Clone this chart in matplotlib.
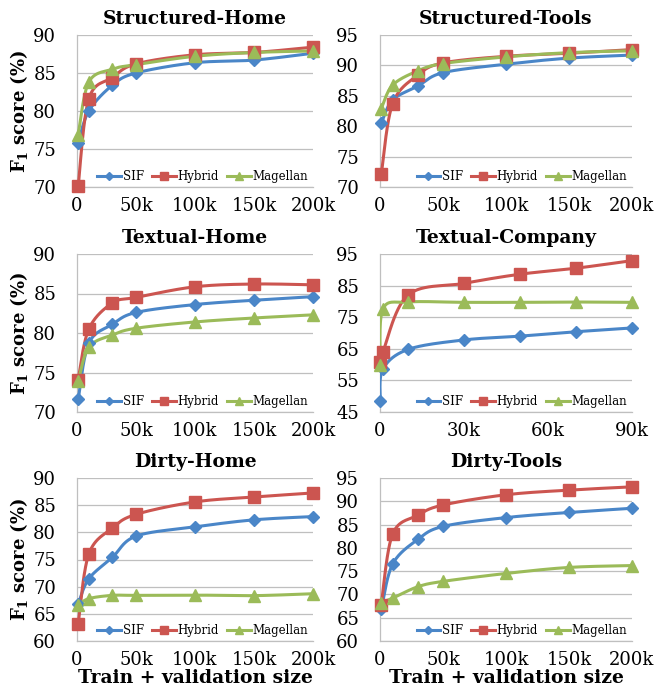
import numpy as np
import matplotlib
matplotlib.use("Agg")
import matplotlib.pyplot as plt

plt.rcParams['font.family'] = ['DejaVu Serif']
plt.rcParams['mathtext.fontset'] = 'dejavuserif'

# ---------------- data ----------------
x_std = [1000, 10000, 30000, 50000, 100000, 150000, 200000]
x_company = [100, 1000, 10000, 30000, 50000, 70000, 90000]

titles = ["Structured-Home", "Structured-Tools", "Textual-Home",
          "Textual-Company", "Dirty-Home", "Dirty-Tools"]
series_names = ["SIF", "Hybrid", "Magellan"]

sif_structured_home = [75.8, 80.0, 83.4, 85.0, 86.35, 86.7, 87.6]
hyb_structured_home = [70.1, 81.6, 84.4, 86.2, 87.4, 87.7, 88.4]
mag_structured_home = [76.9, 83.8, 85.5, 86.1, 87.2, 87.7, 87.9]

sif_structured_tools = [80.5, 84.3, 86.6, 88.8, 90.2, 91.2, 91.7]
hyb_structured_tools = [72.1, 83.7, 88.4, 90.4, 91.5, 92.0, 92.6]
mag_structured_tools = [82.9, 86.75, 89.1, 90.3, 91.4, 92.1, 92.4]

sif_textual_home = [71.6, 78.7, 81.1, 82.6, 83.6, 84.15, 84.6]
hyb_textual_home = [74.1, 80.5, 83.8, 84.5, 85.85, 86.2, 86.1]
mag_textual_home = [73.9, 78.2, 79.75, 80.6, 81.4, 81.9, 82.3]

sif_textual_company = [48.6, 58.5, 64.8, 67.8, 69.0, 70.4, 71.6]
hyb_textual_company = [60.7, 63.9, 82.0, 85.7, 88.6, 90.5, 92.9]
mag_textual_company = [59.8, 77.5, 79.8, 79.7, 79.7, 79.8, 79.7]

sif_dirty_home = [66.8, 71.45, 75.4, 79.3, 81.0, 82.3, 82.9]
hyb_dirty_home = [63.2, 76.0, 80.8, 83.3, 85.6, 86.5, 87.25]
mag_dirty_home = [66.6, 67.8, 68.4, 68.4, 68.45, 68.35, 68.7]

sif_dirty_tools = [66.8, 76.5, 81.8, 84.6, 86.5, 87.6, 88.5]
hyb_dirty_tools = [67.8, 82.95, 87.0, 89.2, 91.4, 92.4, 93.1]
mag_dirty_tools = [68.2, 69.2, 71.65, 72.8, 74.5, 75.8, 76.2]

panels = [
    (x_std, [sif_structured_home, hyb_structured_home, mag_structured_home], (70, 90, 5), [0, 50000, 100000, 150000, 200000]),
    (x_std, [sif_structured_tools, hyb_structured_tools, mag_structured_tools], (70, 95, 5), [0, 50000, 100000, 150000, 200000]),
    (x_std, [sif_textual_home, hyb_textual_home, mag_textual_home], (70, 90, 5), [0, 50000, 100000, 150000, 200000]),
    (x_company, [sif_textual_company, hyb_textual_company, mag_textual_company], (45, 95, 10), [0, 30000, 60000, 90000]),
    (x_std, [sif_dirty_home, hyb_dirty_home, mag_dirty_home], (60, 90, 5), [0, 50000, 100000, 150000, 200000]),
    (x_std, [sif_dirty_tools, hyb_dirty_tools, mag_dirty_tools], (60, 95, 5), [0, 50000, 100000, 150000, 200000]),
]

colors = ["#4A86C8", "#CC5550", "#9BBB59"]
markers = ["D", "s", "^"]
msizes = [6.0, 8.0, 8.0]


def smooth(xs, ys, n=30):
    xs = np.asarray(xs, float)
    ys = np.asarray(ys, float)
    P = np.column_stack([xs, ys])
    out = [P[0]]
    for i in range(len(P) - 1):
        p0 = P[i - 1] if i > 0 else P[i]
        p1 = P[i]
        p2 = P[i + 1]
        p3 = P[i + 2] if i + 2 < len(P) else P[i + 1]
        c1 = p1 + (p2 - p0) / 6.0
        c2 = p2 - (p3 - p1) / 6.0
        t = np.linspace(0, 1, n)[1:, None]
        b = ((1 - t) ** 3) * p1 + 3 * ((1 - t) ** 2) * t * c1 + 3 * (1 - t) * t ** 2 * c2 + t ** 3 * p2
        out.extend(b)
    out = np.array(out)
    return out[:, 0], out[:, 1]


def fmt_k(v):
    return "0" if v == 0 else f"{int(v / 1000)}k"


fig = plt.figure(figsize=(6.56, 6.96), dpi=100)

W, H = 656, 696
cols = [(77, 313), (380, 632)]
rows = [(35, 187), (254, 412), (478, 641)]

for idx, (xs, ys_list, (ymin, ymax, ystep), xt) in enumerate(panels):
    r, c = divmod(idx, 2)
    x0, x1 = cols[c]
    y0, y1 = rows[r]
    ax = fig.add_axes([x0 / W, 1 - y1 / H, (x1 - x0) / W, (y1 - y0) / H])
    handles = []
    for k, ys in enumerate(ys_list):
        sx, sy = smooth(xs, ys)
        ax.plot(sx, sy, color=colors[k], lw=2.2, zorder=3, solid_capstyle='round')
        ax.plot(xs, ys, linestyle='none', marker=markers[k], ms=msizes[k],
                color=colors[k], zorder=4, clip_on=False)
        h, = ax.plot([], [], color=colors[k], lw=2.2, marker=markers[k],
                     ms=msizes[k] * 0.72, label=series_names[k])
        handles.append(h)
    ax.set_xlim(0, xt[-1])
    ax.set_ylim(ymin, ymax)
    ax.set_yticks(np.arange(ymin, ymax + 0.1, ystep))
    ax.set_xticks(xt)
    ax.set_xticklabels([fmt_k(v) for v in xt])
    ax.grid(axis='y', color='#BFBFBF', lw=0.9)
    ax.set_axisbelow(True)
    for s in ['top', 'right']:
        ax.spines[s].set_visible(False)
    for s in ['left', 'bottom']:
        ax.spines[s].set_color('#BFBFBF')
        ax.spines[s].set_linewidth(0.9)
    ax.tick_params(axis='y', length=0, labelsize=13, pad=15)
    ax.tick_params(axis='x', length=0, labelsize=13, pad=7)
    ax.set_title(titles[idx], fontsize=13.5, fontweight='bold', pad=8)
    if c == 0:
        ax.set_ylabel(r"F$_\mathbf{1}$ score (%)", fontsize=13, fontweight='bold', labelpad=2)
    if r == 2:
        ax.set_xlabel("Train + validation size", fontsize=13.5, fontweight='bold', labelpad=0)
    ax.legend(handles=handles, loc='lower right', bbox_to_anchor=(1.01, -0.02), ncol=3,
              frameon=False, fontsize=8.5, handlelength=2.0, handletextpad=0.15,
              columnspacing=0.7, borderaxespad=0.2)

fig.savefig("out.png", dpi=100)
